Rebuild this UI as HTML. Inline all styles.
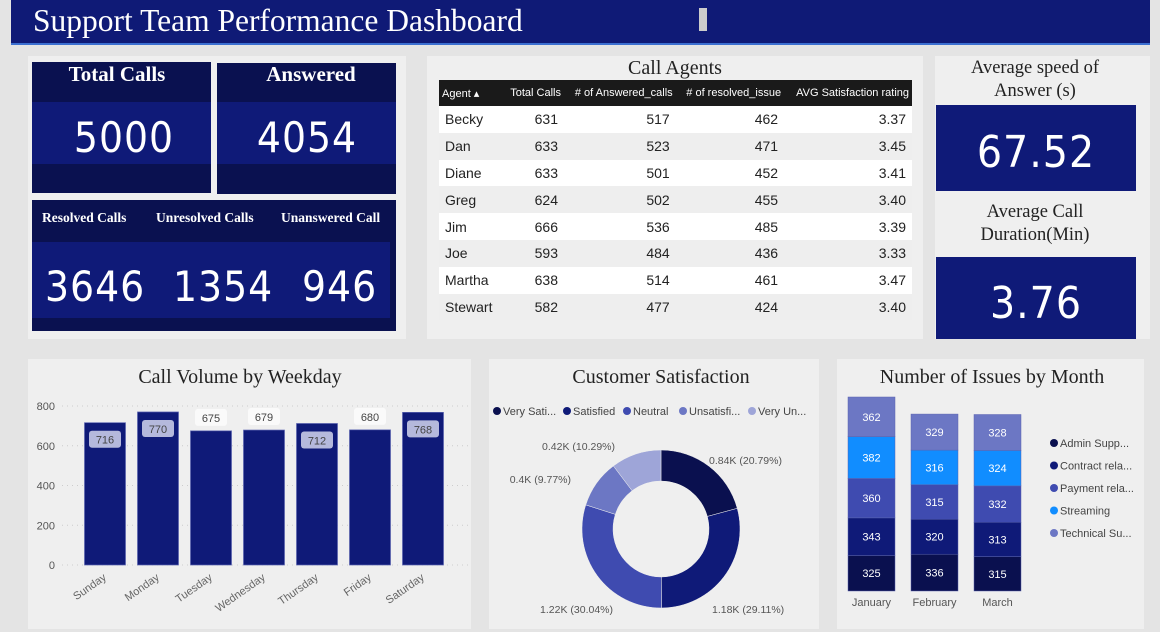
<!DOCTYPE html>
<html><head><meta charset="utf-8"><style>
*{margin:0;padding:0;box-sizing:border-box}
body{width:1160px;height:632px;background:#e4e4e4;font-family:"Liberation Sans",sans-serif;position:relative;overflow:hidden}
.abs{position:absolute}
.serif{font-family:"Liberation Serif",serif}
.panel{position:absolute;background:#efefef}
.dark{background:#0a1150}
.mid{background:#0f1a78}
.big{font-family:"DejaVu Sans Condensed","DejaVu Sans",sans-serif;color:#fff;font-weight:normal;text-align:center;letter-spacing:1px}
table{border-collapse:collapse;font-size:14px;color:#222}
td{height:26.8px;padding:0 6px}
th{font-weight:normal;color:#fff;font-size:11px;background:#1a1a1a;height:26px;padding:0 3px;text-align:right;white-space:nowrap}
</style></head><body>
<div class="abs" style="left:11px;top:0;width:1139px;height:45px;background:#0f1a76;border-bottom:2px solid #3b6fd0"></div>
<div class="abs serif" style="left:33px;top:3px;font-size:31.5px;color:#fff">Support Team Performance Dashboard</div>
<div class="abs" style="left:699px;top:8px;width:8px;height:23px;background:#ccc"></div>

<div class="panel" style="left:28px;top:56px;width:378px;height:283px"></div>
<div class="abs dark" style="left:32px;top:62px;width:179px;height:131px"></div>
<div class="abs mid" style="left:32px;top:102px;width:179px;height:62px"></div>
<div class="abs serif" style="left:32px;top:62px;width:170px;text-align:center;color:#fff;font-size:21px;font-weight:bold">Total Calls</div>
<div class="abs big" style="left:32px;top:113px;width:184px;font-size:42px">5000</div>
<div class="abs dark" style="left:217px;top:63px;width:179px;height:131px"></div>
<div class="abs mid" style="left:217px;top:102px;width:179px;height:62px"></div>
<div class="abs serif" style="left:217px;top:62px;width:188px;text-align:center;color:#fff;font-size:21px;font-weight:bold">Answered</div>
<div class="abs big" style="left:217px;top:113px;width:180px;font-size:42px">4054</div>
<div class="abs dark" style="left:32px;top:200px;width:364px;height:131px"></div>
<div class="abs mid" style="left:32px;top:242px;width:358px;height:76px"></div>
<div class="abs serif" style="left:42px;top:210px;color:#fff;font-size:13.5px;font-weight:bold">Resolved Calls</div>
<div class="abs serif" style="left:156px;top:210px;color:#fff;font-size:13.5px;font-weight:bold">Unresolved Calls</div>
<div class="abs serif" style="left:281px;top:210px;color:#fff;font-size:13.5px;font-weight:bold">Unanswered Call</div>
<div class="abs big" style="left:45px;top:262px;font-size:42px">3646</div>
<div class="abs big" style="left:173px;top:262px;font-size:42px">1354</div>
<div class="abs big" style="left:302px;top:262px;font-size:42px">946</div>

<div class="panel" style="left:427px;top:56px;width:496px;height:283px"></div>
<div class="abs serif" style="left:427px;top:57px;width:496px;text-align:center;font-size:20px;color:#222">Call Agents</div>
<table class="abs" style="left:439px;top:80px;width:473px">
<tr><th style="text-align:left">Agent ▴</th><th>Total Calls</th><th>#&nbsp;of Answered_calls</th><th># of resolved_issue</th><th>AVG Satisfaction rating</th></tr>
<tbody id="tb"></tbody></table>

<div class="panel" style="left:935px;top:56px;width:215px;height:283px"></div>
<div class="abs serif" style="left:955px;top:57px;width:160px;text-align:center;font-size:18.5px;color:#222;line-height:23px">Average speed of Answer (s)</div>
<div class="abs mid" style="left:936px;top:105px;width:200px;height:86px"></div>
<div class="abs big" style="left:936px;top:127px;width:200px;font-size:44px">67.52</div>
<div class="abs serif" style="left:955px;top:201px;width:160px;text-align:center;font-size:18.5px;color:#222;line-height:23px">Average Call Duration(Min)</div>
<div class="abs mid" style="left:936px;top:257px;width:200px;height:82px"></div>
<div class="abs big" style="left:936px;top:278px;width:200px;font-size:44px">3.76</div>

<div class="panel" style="left:28px;top:359px;width:443px;height:270px"></div>
<div class="panel" style="left:489px;top:359px;width:330px;height:270px"></div>
<div class="panel" style="left:837px;top:359px;width:307px;height:270px"></div>
<svg class="abs" style="left:0;top:0" width="1160" height="632" id="svg" font-family="Liberation Sans, sans-serif"></svg>
<script>
const agents=["Becky","Dan","Diane","Greg","Jim","Joe","Martha","Stewart"];
const agentTotal=[631,633,633,624,666,593,638,582];
const agentAnswered=[517,523,501,502,536,484,514,477];
const agentResolved=[462,471,452,455,485,436,461,424];
const agentRating=["3.37","3.45","3.41","3.40","3.39","3.33","3.47","3.40"];
const days=["Sunday","Monday","Tuesday","Wednesday","Thursday","Friday","Saturday"];
const dayCalls=[716,770,675,679,712,680,768];
const yTicks=[0,200,400,600,800];
const satLabels=["Very Sati...","Satisfied","Neutral","Unsatisfi...","Very Un..."];
const satPct=[20.79,29.11,30.04,9.77,10.29];
const satText=["0.84K (20.79%)","1.18K (29.11%)","1.22K (30.04%)","0.4K (9.77%)","0.42K (10.29%)"];
const months=["January","February","March"];
const issueCats=["Admin Supp...","Contract rela...","Payment rela...","Streaming","Technical Su..."];
const issueVals=[[325,343,360,382,362],[336,320,315,316,329],[315,313,332,324,328]];

const tb=document.getElementById('tb');
agents.forEach((a,i)=>{const tr=document.createElement('tr');


tr.style.background=i%2?'#eeeeee':'#ffffff';
tr.innerHTML=`<td>${a}</td><td style="text-align:right">${agentTotal[i]}</td><td style="text-align:right">${agentAnswered[i]}</td><td style="text-align:right">${agentResolved[i]}</td><td style="text-align:right">${agentRating[i]}</td>`;tb.appendChild(tr);});

const svg=document.getElementById('svg');const NS='http://www.w3.org/2000/svg';
function el(t,a,txt){const e=document.createElementNS(NS,t);for(const k in a)e.setAttribute(k,a[k]);if(txt!=null)e.textContent=txt;svg.appendChild(e);return e;}
const colors=["#0a104f","#0f1a78","#3f4bb0","#6c77c4","#9ea5d8"];
let t=el('text',{x:240,y:383,'text-anchor':'middle','font-size':20,fill:'#222','font-family':'Liberation Serif, serif'},'Call Volume by Weekday');


const y0=565,yk=159/800,x0=105,dx=53,bw=41;
const Y=v=>y0-v*yk, X=i=>x0+i*dx;
yTicks.forEach(v=>{const g=el('line',{x1:62,x2:468,y1:Y(v),y2:Y(v),stroke:'#ccc','stroke-dasharray':'1 4'});


const l=el('text',{x:55,y:Y(v)+4,'text-anchor':'end','font-size':11,fill:'#555'},v);

});
dayCalls.forEach((v,i)=>{const b=el('rect',{x:X(i)-bw/2,y:Y(v),width:bw,height:y0-Y(v),fill:'#0f1a78',stroke:'#5a63b0','stroke-width':0.7});


const inside=v>700;const ly=inside?Y(v)+16:Y(v)-14;
const r=el('rect',{x:X(i)-16,y:ly-8,width:32,height:17,rx:3,fill:inside?'#b5b9dc':'#fafafa'});


const lt=el('text',{x:X(i),y:ly+5,'text-anchor':'middle','font-size':11,fill:'#444'},v);


const xl=el('text',{x:X(i)+2,y:y0+14,'text-anchor':'end','font-size':11,fill:'#666',transform:`rotate(-35 ${X(i)+2} ${y0+14})`},days[i]);

});
t=el('text',{x:661,y:383,'text-anchor':'middle','font-size':20,fill:'#222','font-family':'Liberation Serif, serif'},'Customer Satisfaction');


const lx=[497,567,627,683,752];
satLabels.forEach((s,i)=>{const c=el('circle',{cx:lx[i],cy:411,r:4,fill:colors[i]});


const tt=el('text',{x:lx[i]+6,y:415,'font-size':11,fill:'#444'},s);

});
const cx=661,cy=529,R=79,r0=48;let a=0;const tot=satPct.reduce((p,q)=>p+q,0);
const lpos=[[709,460,'start'],[712,609,'start'],[613,609,'end'],[571,479,'end'],[615,446,'end']];
satPct.forEach((p,i)=>{const a1=a+p/tot*2*Math.PI;const P=(rr,ang)=>[cx+rr*Math.sin(ang),cy-rr*Math.cos(ang)];
const [x1,y1]=P(R,a),[x2,y2]=P(R,a1),[x3,y3]=P(r0,a1),[x4,y4]=P(r0,a);const lg=a1-a>Math.PI?1:0;
const s=el('path',{d:`M${x1},${y1}A${R},${R} 0 ${lg} 1 ${x2},${y2}L${x3},${y3}A${r0},${r0} 0 ${lg} 0 ${x4},${y4}Z`,fill:colors[i],stroke:'#efefef','stroke-width':0.5});


const lt=el('text',{x:lpos[i][0],y:lpos[i][1]+4,'text-anchor':lpos[i][2],'font-size':10.5,fill:'#555'},satText[i]);


a=a1;});
t=el('text',{x:992,y:383,'text-anchor':'middle','font-size':20,fill:'#222','font-family':'Liberation Serif, serif'},'Number of Issues by Month');


const sc=["#0a104f","#0f1a78","#3f4bb0","#118dff","#6c77c4"];
const sy0=591,sk=194/1772,sx=[848,911,974],sw=47;
issueVals.forEach((vals,m)=>{let acc=0;vals.forEach((v,k)=>{const yt=sy0-(acc+v)*sk,h=v*sk;
const r=el('rect',{x:sx[m],y:yt,width:sw,height:h,fill:sc[k],stroke:'#5a63b0','stroke-width':0.5});


const l=el('text',{x:sx[m]+sw/2,y:yt+h/2+4,'text-anchor':'middle','font-size':11,fill:'#fff'},v);


acc+=v;});
const ml=el('text',{x:sx[m]+sw/2,y:606,'text-anchor':'middle','font-size':11,fill:'#555'},months[m]);

});
issueCats.forEach((c,k)=>{const yy=443+k*22.5;const cc=el('circle',{cx:1054,cy:yy,r:4,fill:sc[k]});


const tt=el('text',{x:1060,y:yy+4,'font-size':11,fill:'#444'},c);

});
</script>
</body></html>
